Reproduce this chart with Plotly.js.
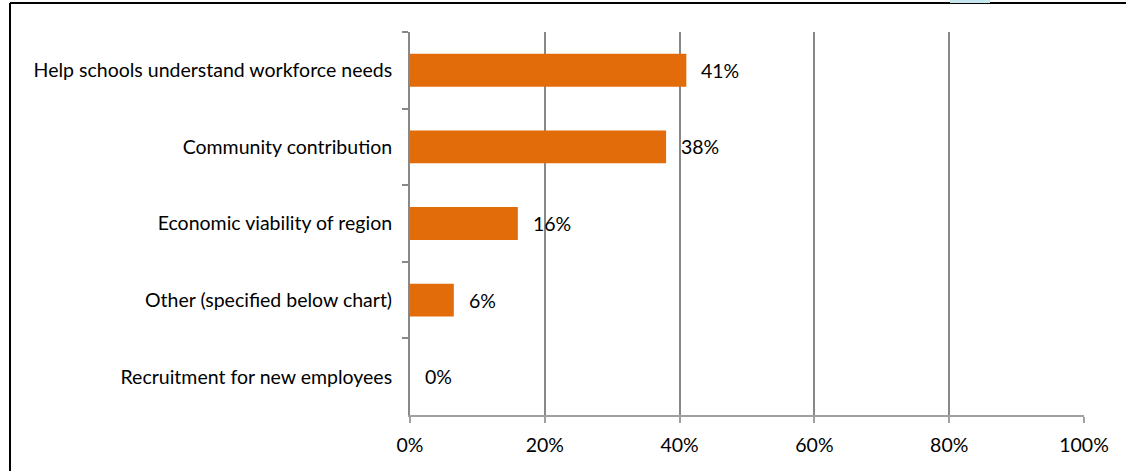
<!DOCTYPE html>
<html>
<head>
<meta charset="utf-8">
<script src="https://cdn.plot.ly/plotly-3.0.1.min.js"></script>
<style>html,body{margin:0;padding:0;background:#fff;}#chart{width:1126px;height:471px;}</style>
</head>
<body>
<div id="chart"></div>
<script>
const categories = [
  "Help schools understand workforce needs",
  "Community contribution",
  "Economic viability of region",
  "Other (specified below chart)",
  "Recruitment for new employees"
];
const values = [0.41, 0.38, 0.16, 0.065, 0.0];
const valueLabels = ["41%", "38%", "16%", "6%", "0%"];
const xTickVals = [0, 0.2, 0.4, 0.6, 0.8, 1.0];
const xTickText = ["0%", "20%", "40%", "60%", "80%", "100%"];

const W = 1126, H = 471;
const L = 410, R = 42, T = 32, B = 56;
const pw = W - L - R, ph = H - T - B;
const px = x => (x - L) / pw;
const py = y => 1 - (y - T) / ph;

const font = {family: "Lato, 'Open Sans', sans-serif", size: 19.5, color: "#000"};

const trace = {
  type: "bar",
  orientation: "h",
  y: categories,
  x: values,
  marker: {color: "#E36C0A"},
  hoverinfo: "skip"
};

const annotations = values.map((v, i) => ({
  x: v, y: categories[i], xref: "x", yref: "y",
  text: valueLabels[i], showarrow: false,
  xanchor: "left", xshift: 13, font: font
}));

const shapes = [
  {type: "line", xref: "paper", yref: "paper", x0: px(10), x1: px(1126), y0: py(3), y1: py(3), line: {color: "#000", width: 2}},
  {type: "line", xref: "paper", yref: "paper", x0: px(10), x1: px(10), y0: py(3), y1: py(471), line: {color: "#000", width: 2}},
  {type: "rect", xref: "paper", yref: "paper", x0: px(950), x1: px(990), y0: py(0), y1: py(3), line: {width: 0}, fillcolor: "#c6e6ef"}
];

const layout = {
  width: W, height: H,
  margin: {l: L, r: R, t: T, b: B, pad: 0},
  paper_bgcolor: "#fff", plot_bgcolor: "#fff",
  font: font,
  showlegend: false,
  bargap: 0.57,
  xaxis: {
    range: [0, 1], tickvals: xTickVals, ticktext: xTickText,
    showgrid: true, gridcolor: "#888888", gridwidth: 2,
    showline: true, linecolor: "#a0a0a0", linewidth: 2,
    ticks: "outside", ticklen: 6, tickcolor: "#a0a0a0", tickwidth: 2,
    ticklabelstandoff: 6,
    zeroline: false, fixedrange: true, tickfont: font
  },
  yaxis: {
    type: "category", autorange: "reversed",
    showline: true, linecolor: "#888888", linewidth: 2,
    ticks: "outside", ticklen: 6, tickcolor: "#888888", tickwidth: 2,
    tickson: "boundaries", ticklabelstandoff: 12,
    showgrid: false, zeroline: false, fixedrange: true, tickfont: font
  },
  annotations: annotations,
  shapes: shapes
};

Plotly.newPlot("chart", [trace], layout, {displayModeBar: false, staticPlot: true});
</script>
</body>
</html>
